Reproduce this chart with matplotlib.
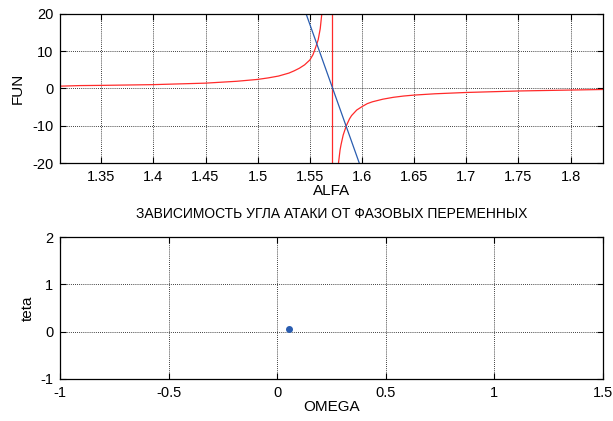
import matplotlib

matplotlib.use("Agg")
import matplotlib.pyplot as plt

plt.rcParams["font.family"] = ["Liberation Sans", "DejaVu Sans"]
plt.rcParams["font.size"] = 10
plt.rcParams["axes.unicode_minus"] = False

# upper panel: FUN(ALFA), two red branches around pi/2
ALFA_LEFT = [1.311, 1.33, 1.35, 1.40, 1.45, 1.48, 1.50, 1.51, 1.52, 1.53,
             1.535, 1.54, 1.545, 1.55, 1.553, 1.555, 1.558, 1.560, 1.5615]
FUN_LEFT = [0.6, 0.75, 0.8, 1.0, 1.4, 1.9, 2.4, 2.8, 3.3, 4.1,
            4.7, 5.4, 6.3, 7.6, 9.0, 10.5, 13.0, 16.0, 20.0]
ALFA_RIGHT = [1.5775, 1.579, 1.58, 1.582, 1.585, 1.588, 1.59, 1.595, 1.60,
              1.605, 1.61, 1.62, 1.63, 1.64, 1.65, 1.67, 1.70, 1.75, 1.80,
              1.8317]
FUN_RIGHT = [-20.0, -16.5, -15.0, -12.5, -10.0, -8.2, -7.3, -5.8, -4.9,
             -4.1, -3.6, -2.9, -2.4, -2.05, -1.8, -1.45, -1.1, -0.7, -0.45,
             -0.3]
ALFA_ASYM = 1.5708
ALFA_TANGENT = [1.5464, 1.5974]
FUN_TANGENT = [20.0, -20.0]

# lower panel: single point teta(OMEGA)
OMEGA_PT = [0.053]
TETA_PT = [0.055]

RED = "#ff2a2a"
BLUE = "#2a5db0"

fig = plt.figure(figsize=(6.13, 4.21), dpi=100)
ax1 = fig.add_axes([0.0984, 0.6128, 0.8848, 0.3546])
ax2 = fig.add_axes([0.0984, 0.1005, 0.8848, 0.3359])

ax1.plot(ALFA_LEFT, FUN_LEFT, color=RED, linewidth=0.9)
ax1.plot(ALFA_RIGHT, FUN_RIGHT, color=RED, linewidth=0.9)
ax1.plot([ALFA_ASYM, ALFA_ASYM], [-20, 20], color=RED, linewidth=0.9)
ax1.plot(ALFA_TANGENT, FUN_TANGENT, color=BLUE, linewidth=0.9)
ax1.set_xlim(1.3108, 1.8308)
ax1.set_ylim(-20, 20)
ax1.set_xticks([1.35, 1.4, 1.45, 1.5, 1.55, 1.6, 1.65, 1.7, 1.75, 1.8])
ax1.set_xticklabels(["1.35", "1.4", "1.45", "1.5", "1.55", "1.6", "1.65",
                     "1.7", "1.75", "1.8"])
ax1.set_yticks([-20, -10, 0, 10, 20])
ax1.set_xlabel("ALFA", fontsize=11, labelpad=0)
ax1.set_ylabel("FUN", fontsize=11, labelpad=5)

ax2.plot(OMEGA_PT, TETA_PT, "o", color=BLUE, markersize=4)
ax2.set_xlim(-1, 1.5)
ax2.set_ylim(-1, 2)
ax2.set_xticks([-1, -0.5, 0, 0.5, 1, 1.5])
ax2.set_xticklabels(["-1", "-0.5", "0", "0.5", "1", "1.5"])
ax2.set_yticks([-1, 0, 1, 2])
ax2.set_xlabel("OMEGA", fontsize=11, labelpad=0)
ax2.set_ylabel("teta", fontsize=11, labelpad=4)
ax2.set_title("ЗАВИСИМОСТЬ УГЛА АТАКИ ОТ ФАЗОВЫХ ПЕРЕМЕННЫХ", fontsize=10, pad=14)

for ax in (ax1, ax2):
    ax.grid(True, color="black", linestyle=(0, (1, 1.5)), linewidth=0.6)
    ax.tick_params(direction="in", top=True, right=True, length=4, width=0.8,
                   pad=5, labelsize=10.5)
    for spine in ax.spines.values():
        spine.set_linewidth(0.9)

fig.savefig("out.png", dpi=100)
